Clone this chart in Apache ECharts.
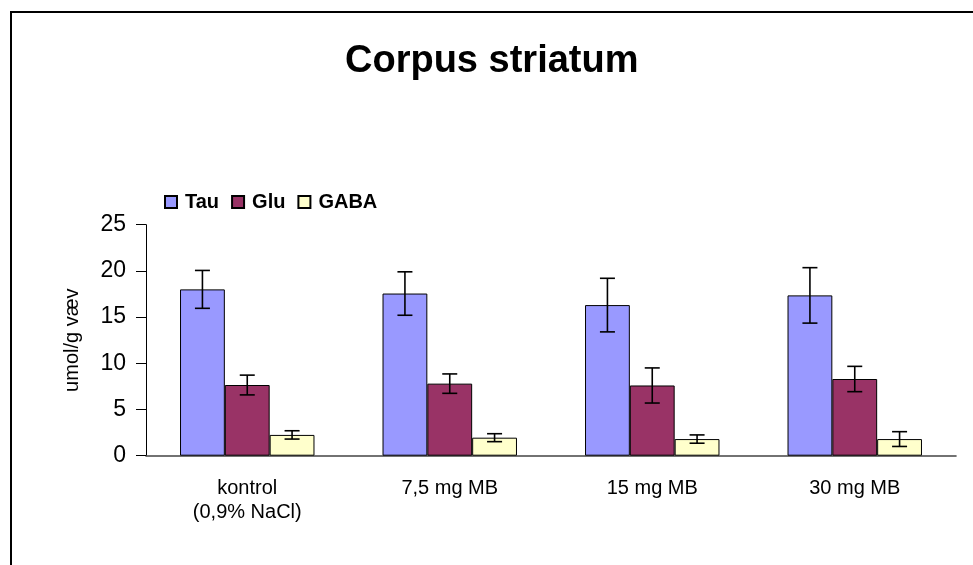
<!DOCTYPE html>
<html>
<head>
<meta charset="utf-8">
<style>
  html, body { margin: 0; padding: 0; background: #fff; }
  #chart { width: 973px; height: 565px; }
</style>
<script src="https://cdn.jsdelivr.net/npm/echarts@6/dist/echarts.min.js"></script>
</head>
<body>
<div id="chart"></div>
<script>
// Amino acid levels in corpus striatum (mean ± error), per treatment group
const categories = ['kontrol\n(0,9% NaCl)', '7,5 mg MB', '15 mg MB', '30 mg MB'];
const seriesNames = ['Tau', 'Glu', 'GABA'];
const tau = [18.0, 17.55, 16.3, 17.35];
const tauErr = [2.05, 2.35, 2.9, 3.0];
const glu = [7.65, 7.8, 7.6, 8.3];
const gluErr = [1.07, 1.05, 1.9, 1.37];
const gaba = [2.25, 1.95, 1.8, 1.8];
const gabaErr = [0.45, 0.43, 0.45, 0.8];
const yTicks = [0, 5, 10, 15, 20, 25];

const colors = ['#9999FF', '#993366', '#FFFFCC'];
const FONT = 'Arial, "Liberation Sans", sans-serif';
const CATEGORY_GAP = 0.336;

const values = [tau, glu, gaba];
const errors = [tauErr, gluErr, gabaErr];

const chart = echarts.init(document.getElementById('chart'), null, { renderer: 'canvas' });

// error bar drawn at the centre of the matching bar in each group
function errorSeries(idx) {
  const data = values[idx].map((v, i) => [i, v, errors[idx][i]]);
  return {
    type: 'custom',
    name: seriesNames[idx] + ' err',
    z: 10,
    silent: true,
    data: data,
    renderItem: function (params, api) {
      const ci = api.value(0);
      const v = api.value(1);
      const e = api.value(2);
      const band = api.size([1, 0])[0];
      const bw = band * (1 - CATEGORY_GAP) / 3;
      const center = api.coord([ci, v]);
      const x = center[0] + (idx - 1) * bw;
      const yTop = api.coord([ci, v + e])[1];
      const yBot = api.coord([ci, v - e])[1];
      const cap = 7.5;
      const style = { stroke: '#000', lineWidth: 1.6, fill: null };
      return {
        type: 'group',
        children: [
          { type: 'line', shape: { x1: x, y1: yTop, x2: x, y2: yBot }, style: style },
          { type: 'line', shape: { x1: x - cap, y1: yTop, x2: x + cap, y2: yTop }, style: style },
          { type: 'line', shape: { x1: x - cap, y1: yBot, x2: x + cap, y2: yBot }, style: style }
        ]
      };
    }
  };
}

const barSeries = seriesNames.map((name, idx) => ({
  type: 'bar',
  name: name,
  data: values[idx],
  barGap: '0%',
  barCategoryGap: (CATEGORY_GAP * 100) + '%',
  itemStyle: { color: colors[idx], borderColor: '#000', borderWidth: 1 },
  emphasis: { disabled: true }
}));

const option = {
  animation: false,
  backgroundColor: '#fff',
  textStyle: { fontFamily: FONT },
  title: {
    text: 'Corpus striatum',
    left: 345,
    top: 43,
    padding: 0,
    textStyle: { fontFamily: FONT, fontSize: 38, fontWeight: 'bold', color: '#000' }
  },
  legend: {
    data: seriesNames,
    left: 164,
    top: 192,
    padding: 0,
    itemWidth: 12,
    itemHeight: 12,
    itemGap: 12,
    icon: 'rect',
    textStyle: { fontFamily: FONT, fontSize: 20, fontWeight: 'bold', color: '#000', padding: [0, 0, 0, 3] }
  },
  grid: { left: 146, right: 17, top: 224.7, bottom: 109.3, containLabel: false },
  xAxis: {
    type: 'category',
    data: categories,
    axisLine: { lineStyle: { color: '#444', width: 1.6 } },
    axisTick: { show: false },
    axisLabel: { fontFamily: FONT, fontSize: 20, color: '#000', margin: 21, lineHeight: 24 }
  },
  yAxis: {
    type: 'value',
    min: yTicks[0],
    max: yTicks[yTicks.length - 1],
    interval: yTicks[1] - yTicks[0],
    name: 'umol/g væv',
    nameLocation: 'middle',
    nameGap: 64,
    nameRotate: 90,
    nameTextStyle: { fontFamily: FONT, fontSize: 20, color: '#000' },
    axisLine: { show: true, lineStyle: { color: '#000', width: 1 } },
    axisTick: { show: true, length: 10, lineStyle: { color: '#000' } },
    axisLabel: { fontFamily: FONT, fontSize: 23, color: '#000', margin: 20 },
    splitLine: { show: false }
  },
  graphic: [
    {
      type: 'rect',
      shape: { x: 11, y: 12, width: 1000, height: 600 },
      style: { fill: null, stroke: '#000', lineWidth: 2 },
      silent: true,
      z: 100
    }
  ],
  series: barSeries.concat([errorSeries(0), errorSeries(1), errorSeries(2)])
};

chart.setOption(option);
</script>
</body>
</html>
